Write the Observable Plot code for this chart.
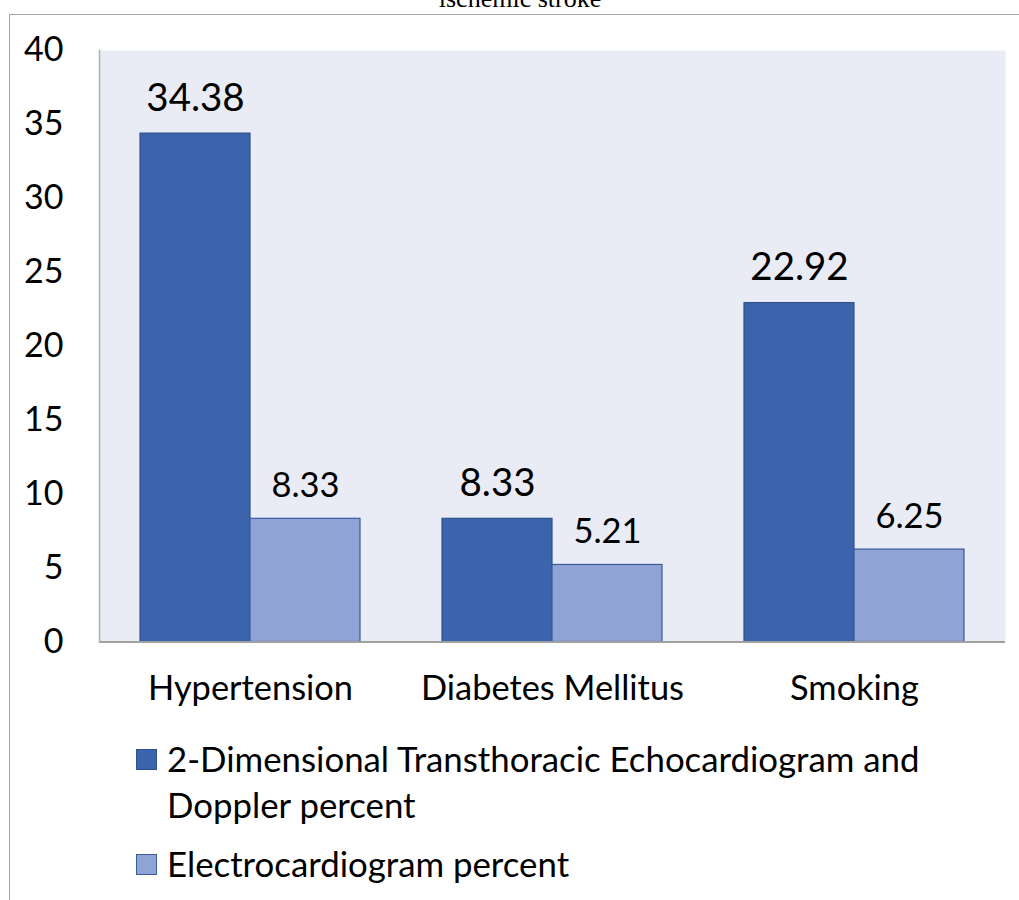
<!DOCTYPE html>
<html>
<head>
<meta charset="utf-8">
<script src="https://cdn.jsdelivr.net/npm/d3@7"></script>
<script src="https://cdn.jsdelivr.net/npm/@observablehq/plot@0.6"></script>
<style>
  html, body { margin: 0; padding: 0; background: #fff; }
  #wrap { position: relative; width: 1019px; height: 900px; overflow: hidden; font-family: Lato, sans-serif; }
  #chart { position: absolute; left: 0; top: 0; }
  #title { position: absolute; left: 0; width: 1040px; top: -14px; text-align: center; font-family: "Liberation Serif", serif; font-size: 26px; line-height: 26px; color: #000; }
  #border { position: absolute; left: 9px; top: 14px; right: 0; bottom: 0; border-top: 1.5px solid #a6a6a6; border-left: 1.5px solid #a6a6a6; }
  .leg { position: absolute; left: 136px; font-size: 34.8px; line-height: 46px; color: #000; }
  .leg .sw { position: absolute; left: 0; width: 19px; height: 19px; }
  .leg .tx { position: absolute; left: 31px; white-space: nowrap; }
</style>
</head>
<body>
<div id="wrap">
  <div id="border"></div>
  <div id="title">ischemic stroke</div>
  <div id="chart"></div>
  <div id="legend"></div>
</div>
<script>
const categories = ["Hypertension", "Diabetes Mellitus", "Smoking"];
const seriesNames = ["2-Dimensional Transthoracic Echocardiogram and Doppler percent", "Electrocardiogram percent"];
const echoValues = [34.38, 8.33, 22.92];
const ecgValues = [8.33, 5.21, 6.25];
const yTicks = [0, 5, 10, 15, 20, 25, 30, 35, 40];
const seriesColors = ["#3b64ad", "#8fa4d4"];
const seriesStrokes = ["#2f528f", "#3a5b9c"];

const echo = categories.map((c, i) => ({category: c, value: echoValues[i]}));
const ecg = categories.map((c, i) => ({category: c, value: ecgValues[i]}));

const chart = Plot.plot({
  width: 1019,
  height: 720,
  marginLeft: 99,
  marginRight: 14,
  marginTop: 50,
  marginBottom: 78.5,
  style: {fontFamily: "Lato, sans-serif", background: "transparent", color: "#000"},
  x: {domain: categories, padding: 0, label: null},
  y: {domain: [0, 40], label: null},
  marks: [
    Plot.frame({fill: "#e9ebf5", stroke: null}),
    Plot.barY(echo, {x: "category", y: "value", fill: seriesColors[0], stroke: seriesStrokes[0], strokeWidth: 1.2, insetLeft: 41, insetRight: 151}),
    Plot.barY(ecg, {x: "category", y: "value", fill: seriesColors[1], stroke: seriesStrokes[1], strokeWidth: 1.2, insetLeft: 151, insetRight: 41}),
    Plot.text(echo, {x: "category", y: "value", text: d => d.value.toFixed(2), dx: -55, dy: -35, fontSize: 38.5, fill: "#000", lineAnchor: "middle"}),
    Plot.text(ecg, {x: "category", y: "value", text: d => d.value.toFixed(2), dx: 55, dy: -33, fontSize: 34.5, fill: "#000", lineAnchor: "middle"}),
    Plot.ruleY([0], {stroke: "#a0a0a0", strokeWidth: 2}),
    Plot.frame({anchor: "left", stroke: "#b0b0b0", strokeWidth: 1.5}),
    Plot.axisY({ticks: yTicks, tickSize: 0, tickPadding: 36, fontSize: 34, fill: "#000", label: null}),
    Plot.axisX({tickSize: 0, tickPadding: 34, fontSize: 34.4, fill: "#000", label: null})
  ]
});
document.getElementById("chart").appendChild(chart);

const legend = document.getElementById("legend");
const items = [
  {top: 736, lines: ["2-Dimensional Transthoracic Echocardiogram and", "Doppler percent"], swTop: 13},
  {top: 841, lines: ["Electrocardiogram percent"], swTop: 13}
];
items.forEach((it, i) => {
  const d = document.createElement("div");
  d.className = "leg";
  d.style.top = it.top + "px";
  const sw = document.createElement("div");
  sw.className = "sw";
  sw.style.top = it.swTop + "px";
  sw.style.background = seriesColors[i];
  sw.style.border = "1px solid " + seriesStrokes[i];
  const tx = document.createElement("div");
  tx.className = "tx";
  tx.innerHTML = it.lines.join("<br>");
  d.appendChild(sw);
  d.appendChild(tx);
  legend.appendChild(d);
});
</script>
</body>
</html>
